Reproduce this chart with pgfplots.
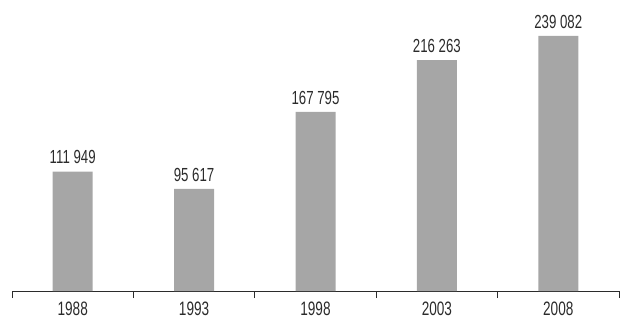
\documentclass[border=0pt]{standalone}
\usepackage{pgfplots}
\pgfplotsset{compat=1.18}
\usepackage{fontspec}
\setmainfont{Liberation Sans}[FakeStretch=0.7]
\definecolor{bargray}{HTML}{A6A6A6}
\definecolor{txt}{HTML}{2B2B2B}
\begin{document}
\begin{tikzpicture}
\path[use as bounding box] (0,0) rectangle (633bp,336bp);
\begin{axis}[
  at={(12bp,45bp)}, anchor=south west,
  scale only axis, width=607bp, height=286bp,
  xmin=-0.5, xmax=4.5, ymin=0, ymax=268000,
  axis x line*=bottom, axis y line=none,
  x axis line style={-, draw=txt, line width=0.8bp},
  xtick={0,1,2,3,4},
  xticklabels={1988,1993,1998,2003,2008},
  major tick length=0pt,
  minor xtick={-0.5,0.5,1.5,2.5,3.5,4.5},
  minor tick length=7bp,
  tick align=outside,
  minor tick style={draw=txt, line width=0.8bp},
  xticklabel style={font=\fontsize{19.5}{22}\selectfont, text=txt, yshift=-7.5bp},
  ybar, bar width=40bp,
  point meta=explicit symbolic,
  nodes near coords,
  every node near coord/.append style={font=\fontsize{19}{22}\selectfont, text=txt, yshift=4bp},
  clip=false,
]
\addplot[fill=bargray, draw=none] coordinates {
  (0,111949) [111 949]
  (1,95617) [95 617]
  (2,167795) [167 795]
  (3,216263) [216 263]
  (4,239082) [239 082]
};
\end{axis}
\end{tikzpicture}
\end{document}
